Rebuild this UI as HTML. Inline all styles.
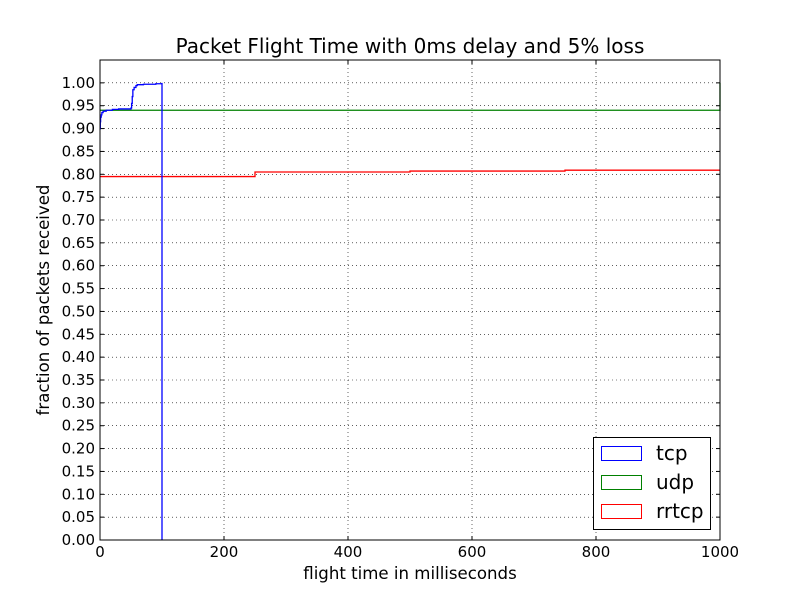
<!DOCTYPE html>
<html><head><meta charset="utf-8"><style>
body{margin:0;background:#fff;}
svg{display:block;font-family:"DejaVu Sans","Liberation Sans",sans-serif;}
</style></head><body>
<svg id="chart" width="800" height="600" xmlns="http://www.w3.org/2000/svg">
<rect width="800" height="600" fill="#fff"/>
</svg>
<script>
const xTicks=[0,200,400,600,800,1000];
const yTicks=[0,0.05,0.1,0.15,0.2,0.25,0.3,0.35,0.4,0.45,0.5,0.55,0.6,0.65,0.7,0.75,0.8,0.85,0.9,0.95,1.0];
const tcpX=[0,0.5,1,2,3,5,10,20,30,50,51,52,53,55,58,60,70,90,100,100];
const tcpY=[0.90,0.915,0.925,0.93,0.935,0.938,0.94,0.942,0.943,0.945,0.955,0.97,0.985,0.99,0.994,0.996,0.997,0.998,1.0,0];
const udpX=[0,1000,1000];
const udpY=[0.94,0.94,1.0];
const rrX=[0,250,500,750,1000];
const rrY=[0.795,0.805,0.807,0.809,0.809];
const seriesNames=['tcp','udp','rrtcp'];
const seriesColors=['#0000ff','#008000','#ff0000'];

const L=100,R=720,T=60,B=540;
const sx=v=>L+v/1000*(R-L);
const sy=v=>B-v/1.05*(B-T);
const svg=document.getElementById('chart');
const NS='http://www.w3.org/2000/svg';
function mk(tag,attrs,parent){const e=document.createElementNS(NS,tag);for(const k in attrs)e.setAttribute(k,attrs[k]);(parent||svg).appendChild(e);return e;}

const grid=mk('g',{});


xTicks.forEach(t=>{
  const x=sx(t);
  mk('line',{x1:x,x2:x,y1:T,y2:B,stroke:'#000','stroke-width':0.6,'stroke-dasharray':'1,3'},grid);
  mk('line',{x1:x,x2:x,y1:B,y2:B-4,stroke:'#000'},grid);
  mk('line',{x1:x,x2:x,y1:T,y2:T+4,stroke:'#000'},grid);
  const tx=mk('text',{x:x,y:B+17,'text-anchor':'middle','font-size':15});
  tx.textContent=t;
  
  
});
yTicks.forEach(t=>{
  const y=sy(t);
  mk('line',{x1:L,x2:R,y1:y,y2:y,stroke:'#000','stroke-width':0.6,'stroke-dasharray':'1,3'},grid);
  mk('line',{x1:L,x2:L+4,y1:y,y2:y,stroke:'#000'},grid);
  mk('line',{x1:R,x2:R-4,y1:y,y2:y,stroke:'#000'},grid);
  const tx=mk('text',{x:L-5,y:y+5,'text-anchor':'end','font-size':15});
  tx.textContent=t.toFixed(2);
  
  
});

function stepPath(xs,ys){
  let d='M'+sx(xs[0])+','+sy(ys[0]);
  for(let i=1;i<xs.length;i++){d+=' L'+sx(xs[i])+','+sy(ys[i-1])+' L'+sx(xs[i])+','+sy(ys[i]);}
  return d;
}
const lines=[[udpX,udpY],[rrX,rrY],[tcpX,tcpY]];
const idx=[1,2,0];
lines.forEach((s,i)=>{
  const p=mk('path',{d:stepPath(s[0],s[1]),fill:'none',stroke:seriesColors[idx[i]],'stroke-width':1.3});
  
  
});

const frame=mk('rect',{x:L,y:T,width:R-L,height:B-T,fill:'none',stroke:'#000','stroke-width':1});



const title=mk('text',{x:410,y:53,'text-anchor':'middle','font-size':20});
title.textContent='Packet Flight Time with 0ms delay and 5% loss';


const xl=mk('text',{x:410,y:579,'text-anchor':'middle','font-size':16.6});
xl.textContent='flight time in milliseconds';


const yl=mk('text',{x:49,y:300,'text-anchor':'middle','font-size':16.6,transform:'rotate(-90 49 300)'});
yl.textContent='fraction of packets received';



const lg=mk('g',{});


mk('rect',{x:593.5,y:437.5,width:117,height:92,fill:'#fff',stroke:'#000','stroke-width':1},lg);
seriesNames.forEach((n,i)=>{
  const e=mk('g',{},lg);
  
  
  mk('rect',{x:601.5,y:446.5+i*29,width:40,height:14,fill:'#fff',stroke:seriesColors[i],'stroke-width':1},e);
  const t=mk('text',{x:656,y:460+i*29,'font-size':20},e);
  t.textContent=n;
});
</script>
</body></html>
